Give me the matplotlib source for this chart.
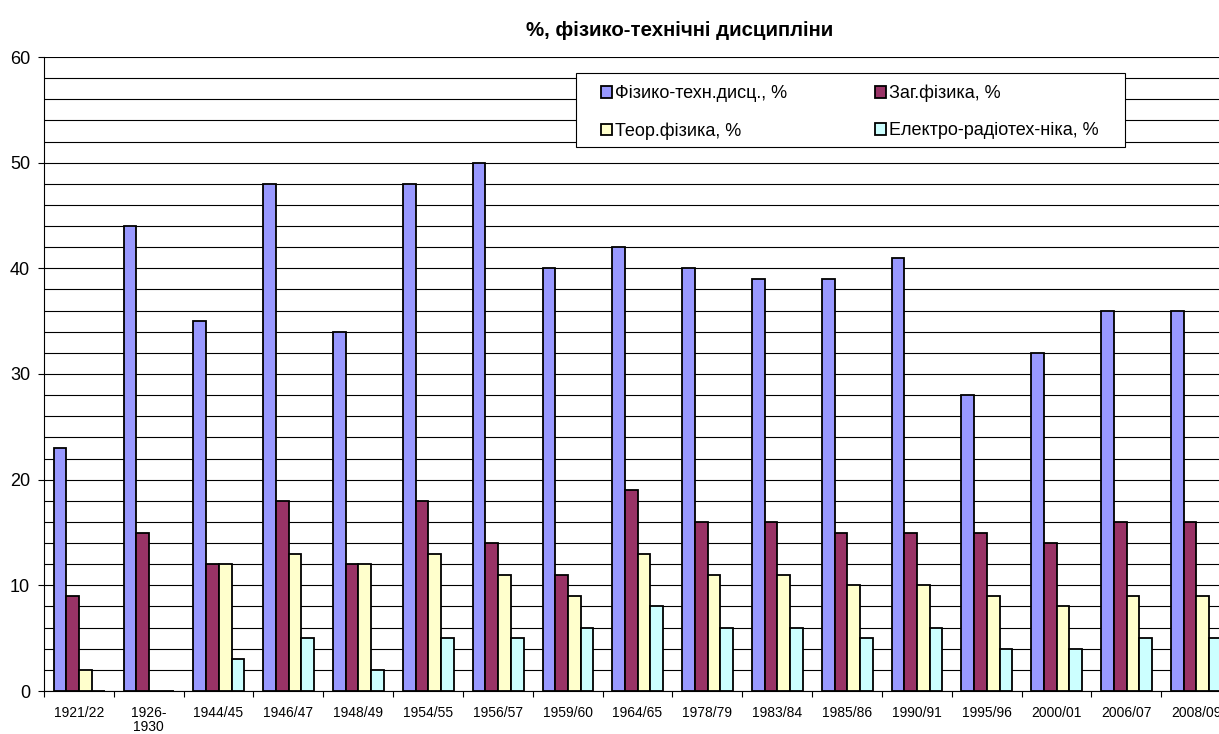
import numpy as np
import matplotlib.pyplot as plt
from matplotlib.ticker import MultipleLocator
from matplotlib.patches import Rectangle

plt.rcParams['font.family'] = ['Liberation Sans', 'DejaVu Sans']

years = ['1921/22', '1926-\n1930', '1944/45', '1946/47', '1948/49', '1954/55',
         '1956/57', '1959/60', '1964/65', '1978/79', '1983/84', '1985/86',
         '1990/91', '1995/96', '2000/01', '2006/07', '2008/09']
fiz_tech = [23, 44, 35, 48, 34, 48, 50, 40, 42, 40, 39, 39, 41, 28, 32, 36, 36]
zag_fiz = [9, 15, 12, 18, 12, 18, 14, 11, 19, 16, 16, 15, 15, 15, 14, 16, 16]
teor_fiz = [2, 0, 12, 13, 12, 13, 11, 9, 13, 11, 11, 10, 10, 9, 8, 9, 9]
elektro = [0, 0, 3, 5, 2, 5, 5, 6, 8, 6, 6, 5, 6, 4, 4, 5, 5]

series = [fiz_tech, zag_fiz, teor_fiz, elektro]
names = ['Фізико-техн.дисц., %', 'Заг.фізика, %', 'Теор.фізика, %', 'Електро-радіотех-ніка, %']
colors = ['#9999FF', '#993366', '#FFFFCC', '#CCFFFF']

W, H = 1219, 734
fig = plt.figure(figsize=(W / 100, H / 100), dpi=100)
ax = fig.add_axes([44 / W, 43 / H, 1187 / W, 634 / H])

x = np.arange(len(years))
w = 0.182
start = 0.14
handles = []
for i, (vals, name, c) in enumerate(zip(series, names, colors)):
    h = ax.bar(x + start + i * w, vals, width=w, align='edge', color=c,
               edgecolor='black', linewidth=1.3, label=name, zorder=3)
    handles.append(h)

ax.set_xlim(0, len(years))
ax.set_ylim(0, 60)
ax.yaxis.set_major_locator(MultipleLocator(10))
ax.yaxis.set_minor_locator(MultipleLocator(2))
ax.grid(axis='y', which='both', color='black', linewidth=0.8, zorder=0)
ax.tick_params(axis='y', which='minor', length=0)
ax.tick_params(axis='y', which='major', length=4, labelsize=13, pad=6)

ax.set_xticks(np.arange(len(years) + 1))
ax.set_xticklabels([])
ax.set_xticks(x + 0.5, minor=True)
ax.set_xticklabels(years, minor=True, fontsize=10, linespacing=0.95)
ax.tick_params(axis='x', which='minor', length=0, pad=11)
ax.tick_params(axis='x', which='major', length=4)

for s in ['top', 'right']:
    ax.spines[s].set_visible(False)

fig.text(680 / W, 1 - 31 / H, '%, фізико-технічні дисципліни',
         ha='center', va='center', fontsize=14.7, fontweight='bold')

# legend frame drawn separately, entries row-wise like Excel
fig.patches.append(Rectangle((576 / W, 1 - 147 / H), 549 / W, 74 / H,
                             transform=fig.transFigure, facecolor='white',
                             edgecolor='black', linewidth=0.8, zorder=5))
order = [0, 2, 1, 3]
leg = fig.legend(handles=[handles[k] for k in order],
                 labels=[names[k] for k in order], ncol=2,
                 bbox_to_anchor=(601 / W, 1 - 85 / H), loc='upper left',
                 frameon=False, fontsize=13, handlelength=0.6,
                 handleheight=0.6, handletextpad=0.15, labelspacing=1.1,
                 borderaxespad=0, borderpad=0, columnspacing=4.9)
leg.set_zorder(6)

fig.savefig('out.png', dpi=100)
